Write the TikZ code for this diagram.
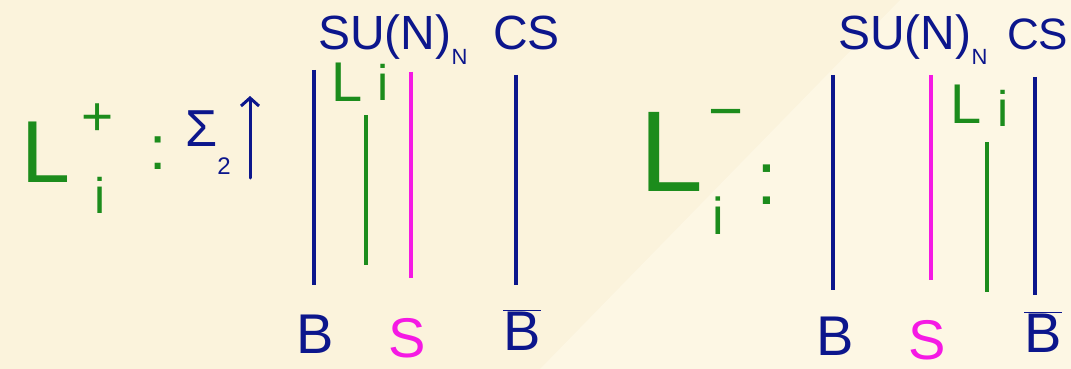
\documentclass[tikz,border=0pt]{standalone}
\usepackage{fontspec}
\setsansfont{Liberation Sans}
\usetikzlibrary{positioning,calc,arrows.meta}
\definecolor{paper}{RGB}{251,243,220}
\definecolor{paperlt}{RGB}{253,247,228}
\definecolor{ink}{RGB}{12,22,140}
\definecolor{leaf}{RGB}{28,140,28}
\definecolor{pink}{RGB}{245,25,228}
\tikzset{>=stealth}
\tikzset{wire/.style={line width=3.4pt},hand/.style={inner sep=0pt,font=\sffamily},
  sz/.style={font=\sffamily\fontsize{#1}{#1}\selectfont}}
\newcommand{\subN}{\raisebox{-0.3em}{\fontsize{22}{22}\selectfont N}}
\newcommand{\subtwo}{\raisebox{-0.55em}{\fontsize{24}{24}\selectfont 2}}

\begin{document}
\begin{tikzpicture}[x=1pt,y=-1pt]
\useasboundingbox (0,0) rectangle (1071,369);
\fill[paper] (0,0) rectangle (1071,369);
\fill[paperlt] (540,369) -- (900,0) -- (1071,0) -- (1071,369) -- cycle;
% left: L_i^+
\node[hand,sz=88,text=leaf] (Lplus) at (46,152) {L};
\node[hand,sz=55,text=leaf] (plus) at (98,120) {+};
\node[hand,sz=50,text=leaf] (iplus) at (100,195) {i};
\node[hand,sz=62,text=leaf] (colA) at (158,153) {:};
\node[hand,sz=52,text=ink,anchor=base west] (sig) at (185,146) {Σ\subtwo};
\coordinate (arrbot) at (250,178); \coordinate (arrtop) at (250,96);
\draw[-{Straight Barb[length=8pt,width=18pt]},ink,line width=3pt,line cap=round] (arrbot) -- (arrtop);
\node[hand,sz=48,text=ink,anchor=base west] (suA) at (318,50) {SU(N)\subN};
\node[hand,sz=48,text=ink,anchor=base west] (csA) at (493,50) {CS};
\coordinate (bAt) at (314,70); \coordinate (bAb) at (314,285);
\coordinate (gAt) at (366,115); \coordinate (gAb) at (366,265);
\coordinate (sAt) at (411,72); \coordinate (sAb) at (411,278);
\coordinate (cAt) at (516,75); \coordinate (cAb) at (516,285);
\draw[wire,ink] (bAt) -- (bAb);
\draw[wire,leaf] (gAt) -- (gAb);
\draw[wire,pink] (sAt) -- (sAb);
\draw[wire,ink] (cAt) -- (cAb);
\node[hand,sz=56,text=leaf] (LA) at (347,82) {L};
\node[hand,sz=50,text=leaf] (iA) at (383,82) {i};
\node[hand,sz=56,text=ink] (BA) at (315,334) {B};
\node[hand,sz=56,text=pink] (SA) at (407,338) {S};
\node[hand,text=ink,font=\fontsize{56}{56}\selectfont] (BbA) at (522,330) {$\overline{\mbox{\sffamily B}}$};
% right: L_i^-
\node[hand,sz=115,text=leaf] (Lminus) at (671,152) {L};
\node[hand,sz=60,text=leaf] (minus) at (726,120) {\textminus};
\node[hand,sz=52,text=leaf] (iminus) at (718,216) {i};
\node[hand,sz=75,text=leaf] (colB) at (767,185) {:};
\node[hand,sz=48,text=ink,anchor=base west] (suB) at (838,50) {SU(N)\subN};
\node[hand,sz=44,text=ink,anchor=base west] (csB) at (1007,50) {CS};
\coordinate (bBt) at (833,75); \coordinate (bBb) at (833,290);
\coordinate (sBt) at (931,75); \coordinate (sBb) at (931,280);
\coordinate (gBt) at (987,142); \coordinate (gBb) at (987,292);
\coordinate (cBt) at (1035,77); \coordinate (cBb) at (1035,295);
\draw[wire,ink] (bBt) -- (bBb);
\draw[wire,pink] (sBt) -- (sBb);
\draw[wire,leaf] (gBt) -- (gBb);
\draw[wire,ink] (cBt) -- (cBb);
\node[hand,sz=56,text=leaf] (LB) at (966,104) {L};
\node[hand,sz=50,text=leaf] (iB) at (1003,108) {i};
\node[hand,sz=56,text=ink] (BB) at (835,336) {B};
\node[hand,sz=56,text=pink] (SB) at (927,340) {S};
\node[hand,text=ink,font=\fontsize{56}{56}\selectfont] (BbB) at (1043,332) {$\overline{\mbox{\sffamily B}}$};
\end{tikzpicture}
\end{document}
